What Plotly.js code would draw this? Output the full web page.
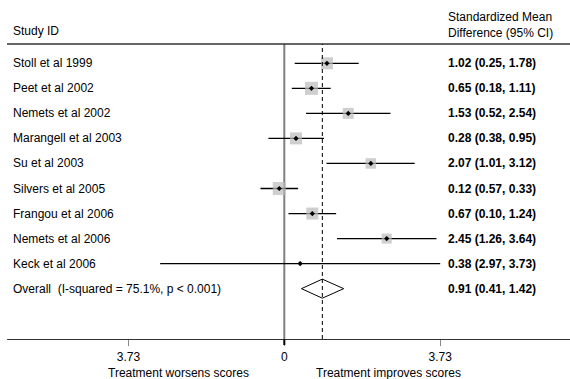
<!DOCTYPE html>
<html>
<head>
<meta charset="utf-8">
<script src="https://cdn.plot.ly/plotly-3.0.1.min.js"></script>
<style>html,body{margin:0;padding:0;background:#fff;}#chart{width:570px;height:379px;}</style>
</head>
<body>
<div id="chart"></div>
<script>
// ---- data ----
var studies = ['Stoll et al 1999','Peet et al 2002','Nemets et al 2002','Marangell et al 2003','Su et al 2003','Silvers et al 2005','Frangou et al 2006','Nemets et al 2006','Keck et al 2006'];
var smd   = [1.02, 0.65, 1.53, 0.28, 2.07, -0.12, 0.67, 2.45, 0.38];
var lower = [0.25, 0.18, 0.52, -0.38, 1.01, -0.57, 0.10, 1.26, -2.97];
var upper = [1.78, 1.11, 2.54, 0.95, 3.12, 0.33, 1.24, 3.64, 3.73];
var weights = [12.9, 15.1, 10.8, 12.9, 9.8, 15.1, 12.9, 9.0, 1.4];
var ciLabels = ['1.02 (0.25, 1.78)','0.65 (0.18, 1.11)','1.53 (0.52, 2.54)','0.28 (0.38, 0.95)','2.07 (1.01, 3.12)','0.12 (0.57, 0.33)','0.67 (0.10, 1.24)','2.45 (1.26, 3.64)','0.38 (2.97, 3.73)'];
var overallLabel = 'Overall\u00a0\u00a0(I-squared = 75.1%, p < 0.001)';
var overallEst = 0.91, overallLo = 0.41, overallHi = 1.42;
var overallCiLabel = '0.91 (0.41, 1.42)';
var tickVals = [-3.73, 0, 3.73];
var tickText = ['3.73', '0', '3.73'];
var headerLeft = 'Study ID';
var headerRight = 'Standardized Mean<br>Difference (95% CI)';
var sideLeft = 'Treatment worsens scores';
var sideRight = 'Treatment improves scores';

// ---- layout geometry ----
var W = 570, H = 379, ML = 7, MR = 0, MT = 44, MB = 40;
var PW = W - ML - MR, PH = H - MT - MB;
function px(X){ return (X - ML) / PW; }
function py(Y){ return (H - MB - Y) / PH; }
var rows = studies.map(function(s, i){ return -i; });
var overallRow = -studies.length;
var FONT = 'Liberation Sans, Arial, sans-serif';
var LX = 11, RX = 446;

var traces = [];
// CI lines
studies.forEach(function(s, i){
  traces.push({x:[lower[i], upper[i]], y:[rows[i], rows[i]], mode:'lines',
    line:{color:'#000', width:1.3}, hoverinfo:'skip', showlegend:false, cliponaxis:false});
});
// weight boxes
var maxW = Math.max.apply(null, weights);
traces.push({x:smd, y:rows, mode:'markers', hoverinfo:'skip', showlegend:false,
  marker:{symbol:'square', color:'#bababa', size:weights.map(function(w){return Math.sqrt(w/maxW)*13;}), line:{width:0}}});
// point estimates
traces.push({x:smd, y:rows, mode:'markers', hoverinfo:'skip', showlegend:false,
  marker:{symbol:'diamond', color:'#000', size:4, line:{width:0}}});
// overall diamond
var dh = 0.38;
traces.push({x:[overallLo, overallEst, overallHi, overallEst, overallLo],
  y:[overallRow, overallRow+dh, overallRow, overallRow-dh, overallRow],
  mode:'lines', line:{color:'#000', width:1}, hoverinfo:'skip', showlegend:false});

var annotations = [];
studies.forEach(function(s, i){
  annotations.push({xref:'paper', yref:'y', x:px(LX), y:rows[i], xanchor:'left', yanchor:'middle',
    text:s, showarrow:false, font:{family:FONT, size:12, color:'#000'}});
  annotations.push({xref:'paper', yref:'y', x:px(RX), y:rows[i], xanchor:'left', yanchor:'middle',
    text:'<b>'+ciLabels[i]+'</b>', showarrow:false, font:{family:FONT, size:12, color:'#000'}});
});
annotations.push({xref:'paper', yref:'y', x:px(LX), y:overallRow, xanchor:'left', yanchor:'middle',
  text:overallLabel, showarrow:false, font:{family:FONT, size:12, color:'#000'}});
annotations.push({xref:'paper', yref:'y', x:px(RX), y:overallRow, xanchor:'left', yanchor:'middle',
  text:'<b>'+overallCiLabel+'</b>', showarrow:false, font:{family:FONT, size:12, color:'#000'}});
annotations.push({xref:'paper', yref:'paper', x:px(LX), y:py(31), xanchor:'left', yanchor:'middle',
  text:headerLeft, showarrow:false, font:{family:FONT, size:12, color:'#000'}});
annotations.push({xref:'paper', yref:'paper', x:px(RX), y:py(25), xanchor:'left', yanchor:'middle', align:'left',
  text:headerRight, showarrow:false, font:{family:FONT, size:12, color:'#000'}});
annotations.push({xref:'paper', yref:'paper', x:px(178), y:py(373), xanchor:'center', yanchor:'middle',
  text:sideLeft, showarrow:false, font:{family:FONT, size:12, color:'#000'}});
annotations.push({xref:'paper', yref:'paper', x:px(388), y:py(373), xanchor:'center', yanchor:'middle',
  text:sideRight, showarrow:false, font:{family:FONT, size:12, color:'#000'}});

var shapes = [
  // top rule
  {type:'line', xref:'paper', yref:'paper', x0:0, x1:1, y0:1, y1:1, line:{color:'#333', width:1.3}},
  // zero line
  {type:'line', xref:'x', yref:'paper', x0:0, x1:0, y0:0, y1:1, line:{color:'#808080', width:2}, layer:'below'},
  // zero tick
  {type:'line', xref:'x', yref:'paper', x0:0, x1:0, y0:0, y1:-6/PH, line:{color:'#000', width:2}},
  // overall dashed line
  {type:'line', xref:'x', yref:'paper', x0:overallEst, x1:overallEst, y0:0, y1:1, line:{color:'#000', width:1, dash:'4px,3px'}}
];

var layout = {
  width:W, height:H, margin:{l:ML, r:MR, t:MT, b:MB, pad:0},
  paper_bgcolor:'#fff', plot_bgcolor:'#fff', showlegend:false,
  font:{family:FONT, size:12, color:'#000'},
  xaxis:{range:[-(284.3-ML)/41.8, (W-MR-284.3)/41.8], showgrid:false, zeroline:false,
    showline:true, linecolor:'#333', linewidth:1.3, ticks:'outside', ticklen:6, tickwidth:1, tickcolor:'#888',
    tickvals:tickVals, ticktext:tickText, tickfont:{family:FONT, size:12, color:'#000'}, fixedrange:true},
  yaxis:{range:[-(339-63.3)/25.04, (63.3-44)/25.04], visible:false, showgrid:false, zeroline:false, fixedrange:true},
  annotations:annotations, shapes:shapes
};
Plotly.newPlot('chart', traces, layout, {displayModeBar:false, staticPlot:true});
</script>
</body>
</html>
